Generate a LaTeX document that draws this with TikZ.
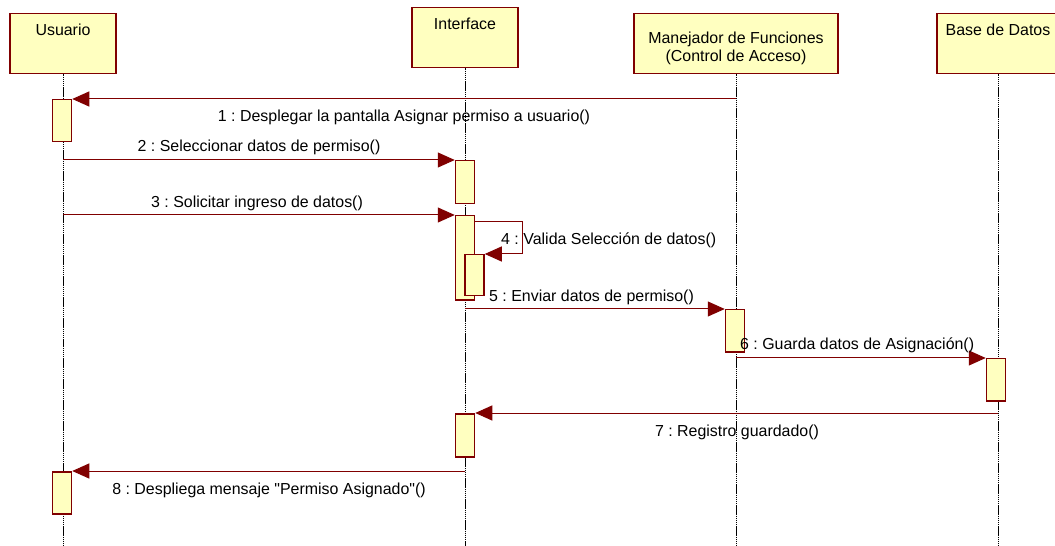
\documentclass[tikz,border=0pt]{standalone}
\usepackage{fontspec}
\setmainfont{Liberation Sans}[Ligatures=TeXOff]
\usetikzlibrary{arrows.meta}
\definecolor{boxfill}{RGB}{255,255,192}
\definecolor{maroonc}{RGB}{128,0,0}
\frenchspacing
\begin{document}
\begin{tikzpicture}[x=1bp,y=-1bp,
  font=\fontsize{16}{18}\selectfont\frenchspacing,
  hdr/.style={draw=maroonc, fill=boxfill, line width=1.5bp, minimum height=60bp, inner sep=0pt, anchor=north},
  hdrtext/.style={anchor=base, inner sep=0pt, align=center},
  act/.style={draw=maroonc, fill=boxfill, line width=1.5bp, minimum width=19bp, inner sep=0pt, anchor=north},
  msg/.style={draw=maroonc, line width=1bp, -{Triangle[length=17bp,width=15bp]}},
  life/.style={draw=black, line width=0.7bp, dash pattern=on 1.5bp off 0.6bp},
  lbl/.style={inner sep=0pt, text=black}
]
\useasboundingbox (0,0) rectangle (1055,546);
\clip (0,0) rectangle (1055,546);
\fill[white] (0,0) rectangle (1055,546);

% headers
\node[hdr, minimum width=106bp] (usr) at (63,13) {};
\node[hdr, minimum width=106bp] (inf) at (465,7) {};
\node[hdr, minimum width=204bp] (man) at (736,13) {};
\node[hdr, minimum width=122bp] (bd) at (998,13) {};
\node[hdrtext] (usrt) at ([yshift=-23bp]usr.north) {Usuario};
\node[hdrtext] (inft) at ([yshift=-23bp]inf.north) {Interface};
\node[hdrtext, anchor=north] (mant) at ([yshift=-19bp]man.north) {Manejador de Funciones\\(Control de Acceso)};
\node[hdrtext] (bdt) at ([yshift=-23bp]bd.north) {Base de Datos};

% lifelines
\draw[life] (usr.south) -- (usr.south |- 0,546);
\draw[life] (inf.south) -- (inf.south |- 0,546);
\draw[life] (man.south) -- (man.south |- 0,546);
\draw[life] (bd.south) -- (bd.south |- 0,546);

% activations
\node[act, minimum height=42bp] (a1) at (62,99) {};
\node[act, minimum height=43bp] (i1) at (465,160) {};
\node[act, minimum height=84bp] (i2) at (465,215) {};
\node[act, minimum height=41bp] (i2n) at (474.5,254) {};
\node[act, minimum height=42bp] (m1) at (735,309) {};
\node[act, minimum height=42bp] (b1) at (996,358) {};
\node[act, minimum height=43bp] (i3) at (465,413) {};
\node[act, minimum height=42bp] (a2) at (62,471) {};

% messages
\draw[msg] (man.south |- a1.north) -- (a1.north east);
\node[lbl] (l1) at (404,117) {1 : Desplegar la pantalla Asignar permiso a usuario()};

\draw[msg] (usr.south |- i1.north) -- (i1.north west);
\node[lbl] (l2) at (259,147) {2 : Seleccionar datos de permiso()};

\draw[msg] (usr.south |- i2.north) -- (i2.north west);
\node[lbl] (l3) at (257,203) {3 : Solicitar ingreso de datos()};

\draw[msg] ([yshift=-7bp]i2.north east) -- ++(47,0) |- (i2n.north east);
\node[lbl, anchor=west] (l4) at (501,240) {4 : Valida Selección de datos()};

\draw[msg] (inf.south |- m1.north) -- (m1.north west);
\node[lbl, anchor=west] (l5) at (489,297) {5 : Enviar datos de permiso()};

\draw[msg] (man.south |- b1.north) -- (b1.north west);
\node[lbl, anchor=west] (l6) at (740,345) {6 : Guarda datos de Asignación()};

\draw[msg] (bd.south |- i3.north) -- (i3.north east);
\node[lbl] (l7) at (737,432) {7 : Registro guardado()};

\draw[msg] (inf.south |- a2.north) -- (a2.north east);
\node[lbl] (l8) at (269,490) {8 : Despliega mensaje "Permiso Asignado"()};
\end{tikzpicture}
\end{document}
